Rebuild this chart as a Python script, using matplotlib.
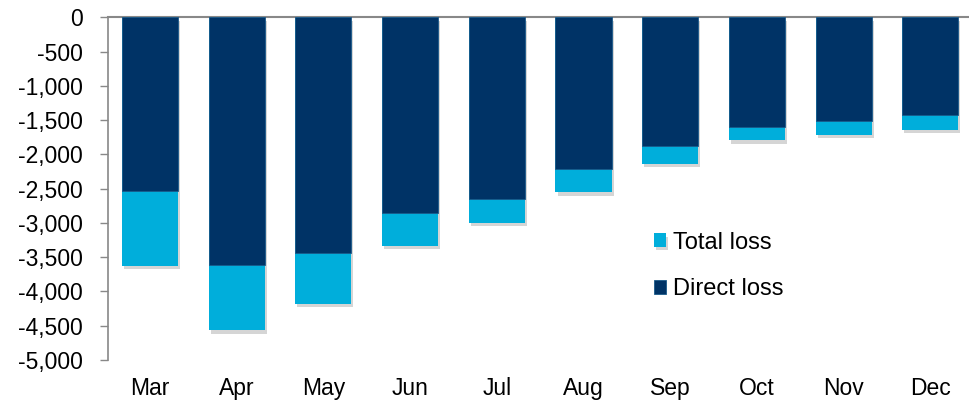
import numpy as np
import matplotlib
matplotlib.use("Agg")
import matplotlib.pyplot as plt
import matplotlib.patheffects as pe
from matplotlib.ticker import FuncFormatter

months = ["Mar", "Apr", "May", "Jun", "Jul", "Aug", "Sep", "Oct", "Nov", "Dec"]
direct_loss = [-2535, -3620, -3440, -2855, -2655, -2215, -1880, -1600, -1515, -1430]
total_loss = [-3625, -4565, -4180, -3335, -3000, -2550, -2140, -1795, -1715, -1640]

dark = "#003366"
light = "#00AEDB"

plt.rcParams["font.family"] = ["Liberation Sans", "DejaVu Sans"]

fig = plt.figure(figsize=(9.69, 4.03), dpi=100)
ax = fig.add_axes([108 / 969, 1 - 360 / 403, 1 - 108 / 969, (360 - 17.3) / 403])

x = np.arange(len(months))
shadow = [pe.SimplePatchShadow(offset=(1.5, -2.5), shadow_rgbFace="#777777", alpha=0.3), pe.Normal()]
b1 = ax.bar(x, total_loss, width=0.646, color=light, label="Total loss", zorder=2)
for p in b1:
    p.set_path_effects(shadow)
b2 = ax.bar(x, direct_loss, width=0.646, color=dark, edgecolor="#1a5a8a", linewidth=0.6,
            label="Direct loss", zorder=3)

ax.set_xlim(-0.484, 9.446)
ax.set_ylim(-5000, 0)
ax.set_yticks(np.arange(-5000, 1, 500))
ax.yaxis.set_major_formatter(FuncFormatter(lambda v, p: f"{int(v):,}"))
ax.set_xticks(x)
ax.set_xticklabels(months)

for s in ["right", "bottom"]:
    ax.spines[s].set_visible(False)
ax.spines["top"].set_color("#888888")
ax.spines["top"].set_linewidth(1.5)
ax.spines["left"].set_color("#888888")
ax.spines["left"].set_linewidth(1.2)

ax.tick_params(axis="y", direction="out", length=6, width=1, color="#888888",
               labelsize=16.5, pad=12)
ax.tick_params(axis="x", length=0, labelsize=16.5, pad=12)

ax.legend(handles=[b1, b2], loc="center left", bbox_to_anchor=(654 / 969, 1 - 266 / 403),
          bbox_transform=fig.transFigure, frameon=False, fontsize=17, borderpad=0,
          borderaxespad=0, handlelength=0.5, handleheight=0.5, handletextpad=0.3,
          labelspacing=1.05)

fig.savefig("out.png", dpi=100)
